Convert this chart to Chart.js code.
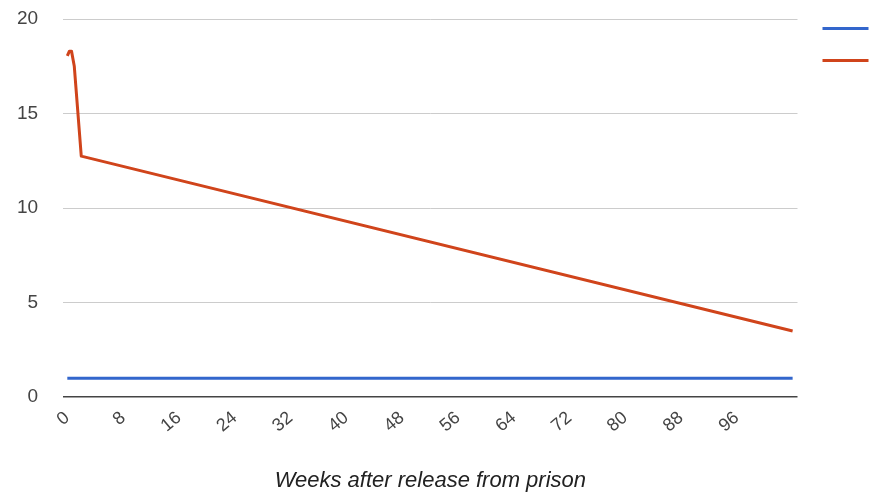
<!DOCTYPE html>
<html>
<head>
<meta charset="utf-8">
<script src="https://cdn.jsdelivr.net/npm/chart.js@4"></script>
<style>
  html, body { margin: 0; padding: 0; background: #fff; }
  #wrap { width: 871px; height: 493px; }
</style>
</head>
<body>
<div id="wrap"><canvas id="chart" width="871" height="493"></canvas></div>
<script>
// weeks after release
const blueWeeks = [0, 104];
const blueValues = [1, 1];
const redWeeks = [0, 0.3, 0.6, 1.0, 2.0, 104];
const redValues = [18.05, 18.3, 18.3, 17.5, 12.75, 3.5];
const xTicks = [0, 8, 16, 24, 32, 40, 48, 56, 64, 72, 80, 88, 96];
const yTicks = [0, 5, 10, 15, 20];
const colors = ['#3366cc', '#d0441b'];

function toPoints(xs, ys) {
    return xs.map((x, i) => ({ x: x, y: ys[i] }));
}

const ctx = document.getElementById('chart').getContext('2d');
new Chart(ctx, {
    type: 'line',
    data: {
        datasets: [
            {
                label: 'series1',
                data: toPoints(blueWeeks, blueValues),
                borderColor: colors[0],
                borderWidth: 3,
                pointRadius: 0,
                fill: false
            },
            {
                label: 'series2',
                data: toPoints(redWeeks, redValues),
                borderColor: colors[1],
                borderWidth: 3,
                pointRadius: 0,
                tension: 0,
                borderJoinStyle: 'round',
                fill: false
            }
        ]
    },
    options: {
        responsive: false,
        animation: false,
        layout: { padding: { left: -8, right: -11, top: 0, bottom: -1 } },
        plugins: {
            tooltip: { enabled: false },
            legend: {
                position: 'right',
                align: 'start',
                labels: {
                    boxWidth: 46,
                    boxHeight: 3,
                    padding: 25,
                    font: { size: 7 },
                    generateLabels: chart => chart.data.datasets.map((ds, i) => ({
                        text: '',
                        fillStyle: ds.borderColor,
                        strokeStyle: ds.borderColor,
                        lineWidth: 0,
                        datasetIndex: i
                    }))
                }
            }
        },
        scales: {
            x: {
                type: 'linear',
                min: -0.6,
                max: 104.7,
                afterBuildTicks: axis => { axis.ticks = xTicks.map(v => ({ value: v })); },
                grid: { display: false },
                border: { display: false },
                ticks: {
                    minRotation: 40,
                    maxRotation: 40,
                    color: '#444',
                    font: { family: 'Liberation Sans, Arial', size: 18 },
                    padding: 2
                },
                title: {
                    display: true,
                    text: 'Weeks after release from prison',
                    color: '#222',
                    font: { family: 'Liberation Sans, Arial', size: 22, style: 'italic' },
                    padding: { top: 29, bottom: 0 }
                }
            },
            y: {
                min: 0,
                max: 20,
                afterBuildTicks: axis => { axis.ticks = yTicks.map(v => ({ value: v })); },
                afterFit: axis => { axis.paddingTop = 19; axis.paddingBottom = 0; },
                grid: {
                    drawTicks: false,
                    color: c => c.tick && c.tick.value === 0 ? '#444' : '#cccccc',
                    lineWidth: c => c.tick && c.tick.value === 0 ? 1.5 : 1
                },
                border: { display: false },
                ticks: {
                    color: '#444',
                    font: { family: 'Liberation Sans, Arial', size: 19 },
                    padding: 25
                }
            }
        }
    }
});
</script>
</body>
</html>
